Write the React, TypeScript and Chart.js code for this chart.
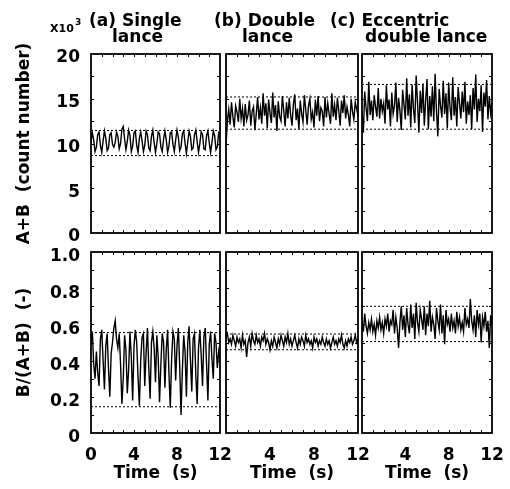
import React, { useEffect, useRef } from 'react';
import { Chart, registerables } from 'chart.js';

Chart.register(...registerables);

// ---------------- data ----------------
const TIME_MAX = 12;
const xTickLabels = [0, 4, 8, 12];
const sumTickLabels = [0, 5, 10, 15, 20];
const ratioTickLabels = [0, 0.2, 0.4, 0.6, 0.8, 1.0];

const panelTitles = [
  ['(a) Single', 'lance'],
  ['(b) Double', 'lance'],
  ['(c) Eccentric', 'double lance'],
];

// A+B (x10^3 counts), sampled uniformly over 0..12 s
const sumSingle = [10.2, 11.2, 10.4, 9.1, 9.6, 11.0, 11.3, 9.8, 9.0, 10.3, 11.4, 10.6, 9.2, 9.5, 11.0, 11.2, 9.9, 9.6, 10.1, 11.3, 10.8, 9.4, 10.0, 11.6, 11.9, 10.5, 9.3, 10.2, 11.5, 10.9, 9.1, 9.7, 11.2, 11.4, 9.8, 9.0, 10.6, 11.3, 10.3, 9.1, 9.8, 11.4, 11.0, 9.5, 9.2, 10.8, 11.5, 10.1, 9.0, 10.0, 11.3, 11.1, 9.6, 9.1, 10.5, 11.4, 10.4, 9.0, 9.7, 11.2, 11.3, 9.9, 9.1, 10.4, 11.5, 10.7, 9.2, 9.6, 11.1, 11.4, 10.0, 8.9, 10.2, 11.4, 10.8, 9.3, 9.5, 11.0, 11.5, 10.2, 9.0, 10.0, 11.3, 11.0, 9.4, 9.3, 10.9, 11.4, 10.1, 9.0, 10.1, 11.4, 10.9, 9.3, 9.6, 11.2, 11.0];
const sumDouble = [9.8, 12.5, 13.8, 12.1, 14.6, 13.0, 11.8, 14.2, 13.5, 12.4, 15.0, 12.8, 13.9, 11.9, 14.4, 12.6, 13.2, 14.8, 12.0, 13.6, 14.1, 11.5, 13.3, 15.2, 12.7, 14.0, 12.2, 15.6, 13.1, 14.5, 11.7, 14.9, 13.4, 12.3, 15.7, 12.9, 14.3, 11.4, 14.7, 13.0, 12.5, 15.3, 13.7, 11.9, 14.6, 12.8, 15.1, 13.2, 12.0, 14.4, 15.5, 12.6, 13.9, 11.6, 14.8, 13.3, 12.4, 15.4, 13.8, 12.1, 14.2, 15.0, 12.7, 13.5, 11.8, 14.9, 13.1, 15.3, 12.5, 14.0, 13.6, 11.9, 15.2, 12.9, 14.5, 13.3, 12.2, 15.6, 13.0, 14.3, 12.6, 15.1, 13.7, 12.0, 14.8, 13.4, 15.4, 12.8, 14.1, 13.2, 11.9, 15.0, 13.6, 12.7, 14.6, 13.9, 13.1];
const sumEccentric = [13.5, 11.2, 15.8, 14.0, 12.5, 16.9, 13.2, 14.8, 12.6, 15.4, 14.1, 13.0, 16.2, 12.8, 15.0, 13.6, 14.5, 12.2, 16.5, 13.8, 14.9, 11.9, 15.7, 13.3, 14.2, 16.8, 12.4, 15.1, 13.7, 11.5, 16.0, 14.4, 12.7, 17.3, 13.1, 15.5, 11.8, 16.6, 13.9, 12.3, 17.6, 14.6, 11.2, 15.9, 13.4, 16.7, 12.0, 14.8, 17.2, 11.6, 15.3, 13.0, 16.4, 12.5, 17.8, 13.6, 10.8, 16.1, 14.2, 12.9, 17.0, 13.3, 15.6, 11.7, 16.8, 14.0, 12.6, 17.4, 13.1, 15.2, 11.9, 16.3, 14.5, 12.8, 15.8, 13.5, 16.9, 12.2, 14.7, 13.2, 15.4, 11.6, 16.2, 13.8, 17.7, 12.4, 15.0, 13.6, 16.5, 11.3, 15.7, 14.1, 17.1, 12.7, 15.3, 13.4, 14.6];

// B/(A+B) (-)
const ratioSingle = [0.50, 0.56, 0.38, 0.30, 0.45, 0.33, 0.26, 0.52, 0.57, 0.40, 0.24, 0.48, 0.55, 0.36, 0.20, 0.44, 0.50, 0.58, 0.62, 0.52, 0.47, 0.55, 0.38, 0.16, 0.30, 0.54, 0.46, 0.22, 0.35, 0.56, 0.42, 0.18, 0.48, 0.57, 0.50, 0.31, 0.15, 0.40, 0.53, 0.55, 0.26, 0.44, 0.58, 0.36, 0.19, 0.50, 0.56, 0.47, 0.28, 0.54, 0.42, 0.17, 0.38, 0.55, 0.50, 0.25, 0.46, 0.57, 0.33, 0.14, 0.41, 0.56, 0.52, 0.29, 0.48, 0.58, 0.37, 0.10, 0.35, 0.54, 0.45, 0.20, 0.50, 0.59, 0.40, 0.23, 0.52, 0.55, 0.32, 0.16, 0.47, 0.57, 0.43, 0.26, 0.53, 0.58, 0.38, 0.18, 0.49, 0.56, 0.41, 0.30, 0.55, 0.50, 0.36, 0.45, 0.40];
const ratioDouble = [0.53, 0.55, 0.50, 0.52, 0.49, 0.54, 0.51, 0.48, 0.53, 0.50, 0.52, 0.47, 0.54, 0.49, 0.51, 0.42, 0.50, 0.53, 0.48, 0.55, 0.51, 0.49, 0.54, 0.50, 0.52, 0.48, 0.53, 0.51, 0.55, 0.49, 0.52, 0.50, 0.46, 0.51, 0.48, 0.53, 0.50, 0.47, 0.52, 0.49, 0.54, 0.51, 0.48, 0.53, 0.50, 0.55, 0.49, 0.52, 0.48, 0.51, 0.54, 0.50, 0.47, 0.52, 0.49, 0.53, 0.51, 0.48, 0.54, 0.50, 0.52, 0.49, 0.51, 0.47, 0.53, 0.50, 0.52, 0.48, 0.51, 0.49, 0.53, 0.50, 0.48, 0.52, 0.49, 0.51, 0.47, 0.50, 0.53, 0.49, 0.51, 0.48, 0.52, 0.50, 0.54, 0.49, 0.47, 0.51, 0.48, 0.52, 0.50, 0.53, 0.49, 0.51, 0.54, 0.50, 0.52];
const ratioEccentric = [0.62, 0.56, 0.66, 0.59, 0.55, 0.61, 0.57, 0.63, 0.56, 0.60, 0.54, 0.62, 0.58, 0.64, 0.57, 0.61, 0.55, 0.63, 0.59, 0.66, 0.56, 0.62, 0.60, 0.68, 0.55, 0.64, 0.58, 0.47, 0.61, 0.70, 0.57, 0.65, 0.53, 0.69, 0.60, 0.55, 0.71, 0.58, 0.66, 0.52, 0.72, 0.61, 0.56, 0.68, 0.63, 0.57, 0.70, 0.54, 0.66, 0.59, 0.73, 0.56, 0.64, 0.60, 0.52, 0.69, 0.62, 0.57, 0.71, 0.55, 0.65, 0.49, 0.68, 0.60, 0.63, 0.56, 0.66, 0.58, 0.62, 0.55, 0.67, 0.59, 0.64, 0.57, 0.61, 0.56, 0.69, 0.60, 0.63, 0.58, 0.74, 0.62, 0.57, 0.65, 0.53, 0.68, 0.60, 0.66, 0.50, 0.64, 0.59, 0.67, 0.56, 0.62, 0.47, 0.65, 0.60];

// dotted reference band (lower, upper)
const sumSingleBand = [8.65, 11.45];
const sumDoubleBand = [11.6, 15.2];
const sumEccentricBand = [11.6, 16.6];
const ratioSingleBand = [0.145, 0.555];
const ratioDoubleBand = [0.46, 0.547];
const ratioEccentricBand = [0.505, 0.70];

// ---------------- layout ----------------
const W = 510;
const H = 489;
const FONT = 'DejaVu Sans';
const colLeft = [91, 226, 362];
const colRight = [220, 358, 492];
const rowTop = [54, 252];
const rowBottom = [233, 433];
const Y_AXIS_W = 91;
const X_AXIS_H = 56;

const rows = [
  { series: [sumSingle, sumDouble, sumEccentric], bands: [sumSingleBand, sumDoubleBand, sumEccentricBand], min: 0, max: 20, minor: 2.5, title: 'A+B  (count number)', fmt: (v: number) => String(v), labelOffset: 4 },
  { series: [ratioSingle, ratioDouble, ratioEccentric], bands: [ratioSingleBand, ratioDoubleBand, ratioEccentricBand], min: 0, max: 1, minor: 0.1, title: 'B/(A+B)  (-)', fmt: (v: number) => (Math.abs(v) < 1e-9 ? '0' : v.toFixed(1)), labelOffset: 5 },
];

const frameTicks = {
  id: 'frameTicks',
  afterDatasetsDraw(chart: any, _args: any, opts: any) {
    const { ctx, chartArea: a, scales } = chart;
    const x = scales.x;
    const y = scales.y;
    ctx.save();
    ctx.strokeStyle = '#000';
    ctx.lineWidth = 1;
    ctx.beginPath();
    for (let t = 1; t < TIME_MAX - 1e-9; t += 1) {
      const px = Math.round(x.getPixelForValue(t)) + 0.5;
      ctx.moveTo(px, a.top);
      ctx.lineTo(px, a.top + 3);
      ctx.moveTo(px, a.bottom);
      ctx.lineTo(px, a.bottom - 3);
    }
    const n = Math.round((opts.max - opts.min) / opts.minor);
    for (let i = 1; i < n; i++) {
      const v = opts.min + i * opts.minor;
      const py = Math.round(y.getPixelForValue(v)) + 0.5;
      ctx.moveTo(a.left, py);
      ctx.lineTo(a.left + 3, py);
      ctx.moveTo(a.right, py);
      ctx.lineTo(a.right - 3, py);
    }
    ctx.stroke();
    ctx.lineWidth = 1.8;
    ctx.strokeRect(a.left, a.top, a.right - a.left, a.bottom - a.top);
    ctx.restore();
  },
};

function clearPadding(s: any) {
  s.paddingLeft = 0;
  s.paddingRight = 0;
  s.paddingTop = 0;
  s.paddingBottom = 0;
}

function makeConfig(r: number, c: number): any {
  const row = rows[r];
  const values = row.series[c];
  const n = values.length;
  const pts = values.map((v, i) => ({ x: (i * TIME_MAX) / (n - 1), y: v }));
  const bandSets = row.bands[c].map((b) => ({
    data: [
      { x: 0, y: b },
      { x: TIME_MAX, y: b },
    ],
    borderColor: '#000',
    borderWidth: 1,
    borderDash: [2, 2],
    pointRadius: 0,
    fill: false,
  }));
  const showY = c === 0;
  const showX = r === 1;
  return {
    type: 'line',
    data: {
      datasets: [
        ...bandSets,
        { data: pts, borderColor: '#000', borderWidth: 1.4, pointRadius: 0, fill: false, tension: 0 },
      ],
    },
    options: {
      animation: false,
      responsive: false,
      devicePixelRatio: 1,
      events: [],
      layout: {
        padding: {
          left: showY ? 0 : colLeft[c],
          right: W - colRight[c],
          top: rowTop[r],
          bottom: showX ? H - rowBottom[r] - X_AXIS_H : H - rowBottom[r],
        },
      },
      plugins: {
        legend: { display: false },
        tooltip: { enabled: false },
        frameTicks: { min: row.min, max: row.max, minor: row.minor },
      },
      scales: {
        x: {
          type: 'linear',
          min: 0,
          max: TIME_MAX,
          display: showX,
          afterFit: (s: any) => {
            s.height = showX ? X_AXIS_H : 0;
            clearPadding(s);
          },
          afterBuildTicks: (s: any) => {
            s.ticks = xTickLabels.map((v) => ({ value: v }));
          },
          grid: { display: false, drawTicks: false },
          border: { display: false },
          ticks: {
            color: '#000',
            padding: 12,
            maxRotation: 0,
            autoSkip: false,
            font: { family: FONT, size: 17, weight: 'bold' },
            callback: (v: any) => (c > 0 && v === 0 ? '' : String(v)),
          },
          title: {
            display: true,
            text: 'Time  (s)',
            color: '#000',
            font: { family: FONT, size: 17, weight: 'bold' },
            padding: { top: 0, bottom: 5 },
          },
        },
        y: {
          type: 'linear',
          min: row.min,
          max: row.max,
          display: showY,
          afterFit: (s: any) => {
            s.width = showY ? Y_AXIS_W : 0;
            clearPadding(s);
          },
          afterBuildTicks: (s: any) => {
            s.ticks = (r === 0 ? sumTickLabels : ratioTickLabels).map((v) => ({ value: v }));
          },
          grid: { display: false, drawTicks: false },
          border: { display: false },
          ticks: {
            color: '#000',
            padding: 11,
            labelOffset: row.labelOffset,
            autoSkip: false,
            font: { family: FONT, size: 17, weight: 'bold' },
            callback: (v: any) => row.fmt(Number(v)),
          },
          title: {
            display: true,
            text: row.title,
            color: '#000',
            font: { family: FONT, size: 17, weight: 'bold' },
            padding: { top: 14, bottom: 0 },
          },
        },
      },
    },
    plugins: [frameTicks],
  };
}

function Panel({ r, c }: { r: number; c: number }) {
  const ref = useRef<HTMLCanvasElement | null>(null);
  useEffect(() => {
    if (!ref.current) return;
    const chart = new Chart(ref.current, makeConfig(r, c));
    return () => chart.destroy();
  }, [r, c]);
  return (
    <canvas
      ref={ref}
      width={W}
      height={H}
      style={{ position: 'absolute', left: 0, top: 0, width: W, height: H }}
    />
  );
}

const textStyle: React.CSSProperties = {
  position: 'absolute',
  fontFamily: FONT,
  fontWeight: 'bold',
  fontSize: 17,
  lineHeight: '17px',
  whiteSpace: 'pre',
  color: '#000',
};

const titlePos = [
  [{ left: 89, top: 12 }, { left: 112, top: 28 }],
  [{ left: 214, top: 12 }, { left: 242, top: 28 }],
  [{ left: 330, top: 12 }, { left: 365, top: 28 }],
];

export default function App() {
  return (
    <div style={{ position: 'absolute', left: 0, top: 0, width: W, height: H, background: '#fff', overflow: 'hidden' }}>
      {[0, 1].map((r) => [0, 1, 2].map((c) => <Panel key={`${r}-${c}`} r={r} c={c} />))}
      {panelTitles.map((lines, c) =>
        lines.map((t, i) => (
          <div key={`t${c}${i}`} style={{ ...textStyle, left: titlePos[c][i].left, top: titlePos[c][i].top }}>
            {t}
          </div>
        ))
      )}
      <div style={{ ...textStyle, fontSize: 11, lineHeight: '11px', left: 50, top: 23 }}>X10</div>
      <div style={{ ...textStyle, fontSize: 9, lineHeight: '9px', left: 75, top: 18 }}>3</div>
    </div>
  );
}
